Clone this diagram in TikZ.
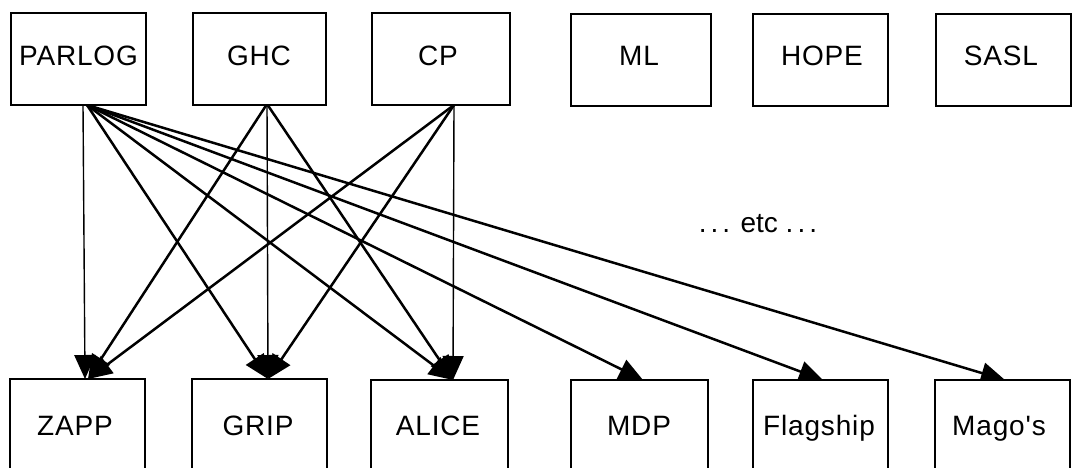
\documentclass[tikz,border=0pt]{standalone}
\usepackage{fontspec}
\setmainfont{Liberation Sans}
\newfontfamily\lblfont[LetterSpace=3]{Liberation Sans}
\usetikzlibrary{arrows.meta}
\begin{document}
\begin{tikzpicture}[x=1pt,y=-1pt,
  box/.style={draw, line width=2pt, fill=white, inner sep=0pt, minimum height=92pt},
  bbox/.style={box, minimum height=100pt},
  lbl/.style={font=\lblfont\fontsize{28}{30}\selectfont, anchor=base, inner sep=0pt},
  etcstyle/.style={font=\fontsize{28}{30}\selectfont, anchor=base, inner sep=0pt},
  link/.style={line width=2.5pt, -{Triangle[length=24pt,width=21pt]}},
  vlink/.style={line width=1.4pt, -{Triangle[length=24pt,width=21pt]}}]
\path[use as bounding box] (0,0) rectangle (1078,468);
\clip (0,0) rectangle (1078,468);
% anchor coordinates
\coordinate (sP) at (87,105);
\coordinate (sPv) at (83,105);
\coordinate (sG) at (267,104);
\coordinate (sC) at (454,105);
\coordinate (tZ) at (88,379);
\coordinate (tZv) at (85,379);
\coordinate (tG) at (268,379);
\coordinate (tA) at (453,380);
\coordinate (tM) at (643,380);
\coordinate (tF) at (823,380);
\coordinate (tMa) at (1005,380);
% connectors
\draw[vlink] (sPv) -- (tZv);
\draw[link] (sP) -- (tG);
\draw[link] (sP) -- (tA);
\draw[link] (sP) -- (tM);
\draw[link] (sP) -- (tF);
\draw[link] (sP) -- (tMa);
\draw[link] (sG) -- (tZ);
\draw[vlink] (sG) -- (tG);
\draw[link] (sG) -- (tA);
\draw[link] (sC) -- (tZ);
\draw[link] (sC) -- (tG);
\draw[vlink] (sC) -- (tA);
% top boxes
\node[box, minimum width=135pt] (parlog) at (78.5,59) {};
\node[box, minimum width=133pt] (ghc) at (259.5,59) {};
\node[box, minimum width=138pt] (cp) at (441,59) {};
\node[box, minimum width=140pt] (ml) at (641,60) {};
\node[box, minimum width=135pt] (hope) at (820.5,60) {};
\node[box, minimum width=135pt] (sasl) at (1003.5,60) {};
% bottom boxes
\node[bbox, minimum width=135pt] (zapp) at (77.5,429) {};
\node[bbox, minimum width=135pt] (grip) at (259.5,429) {};
\node[bbox, minimum width=137pt] (alice) at (439.5,430) {};
\node[bbox, minimum width=137pt] (mdp) at (639.5,430) {};
\node[bbox, minimum width=135pt] (flag) at (820.5,430) {};
\node[bbox, minimum width=135pt] (mago) at (1002.5,430) {};
% labels
\node[lbl] (parlogT) at (78.5,66) {PARLOG};
\node[lbl] (ghcT) at (259,66) {GHC};
\node[lbl] (cpT) at (438,66) {CP};
\node[lbl] (mlT) at (639,66) {ML};
\node[lbl] (hopeT) at (822,66) {HOPE};
\node[lbl] (saslT) at (1001,66) {SASL};
\node[lbl] (zappT) at (75,435) {ZAPP};
\node[lbl] (gripT) at (258,435) {GRIP};
\node[lbl] (aliceT) at (438,435) {ALICE};
\node[lbl] (mdpT) at (639,435) {MDP};
\node[lbl] (flagT) at (819,435) {Flagship};
\node[lbl] (magoT) at (999,435) {Mago's};
\node[etcstyle] (etc) at (758,232) {.\kern4pt.\kern4pt. etc .\kern4pt.\kern4pt.};
\end{tikzpicture}
\end{document}
